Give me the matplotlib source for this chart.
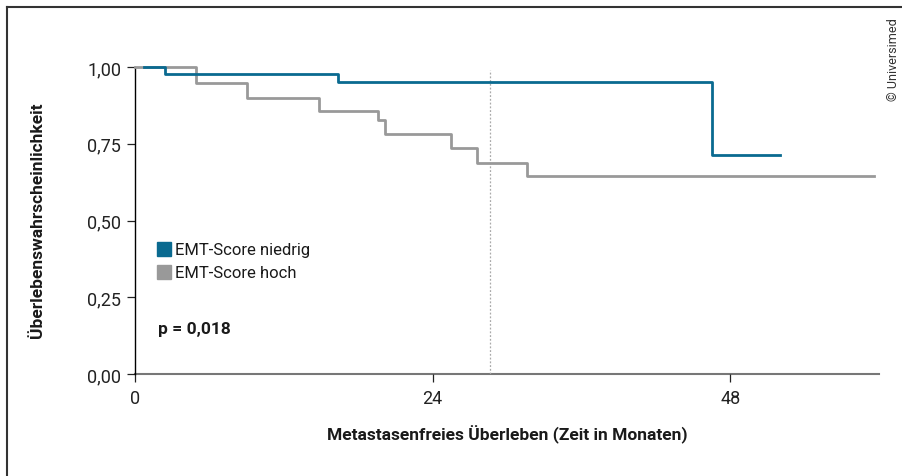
import matplotlib
matplotlib.use("Agg")
import matplotlib.pyplot as plt
from matplotlib import font_manager
from matplotlib.lines import Line2D

names = {f.name for f in font_manager.fontManager.ttflist}
FONT = "Liberation Sans Narrow" if "Liberation Sans Narrow" in names else "Roboto"
plt.rcParams['font.family'] = [FONT, 'DejaVu Sans']

# Data
low_t = [0.7, 2.45, 16.4, 46.5, 52.0]
low_s = [1.0, 0.977, 0.951, 0.714, 0.714]
high_t = [0.0, 4.9, 9.05, 14.8, 19.6, 20.2, 25.5, 27.6, 31.6, 59.6]
high_s = [1.0, 0.947, 0.898, 0.858, 0.827, 0.782, 0.736, 0.687, 0.646, 0.646]
median_line_x = 28.6
xticks = [0, 24, 48]
yticks = [0.0, 0.25, 0.5, 0.75, 1.0]
ytick_labels = ["0,00", "0,25", "0,50", "0,75", "1,00"]
labels = ["EMT-Score niedrig", "EMT-Score hoch"]
colors = ["#0a6a90", "#999999"]
p_text = "p = 0,018"

W, H = 903, 477
fig = plt.figure(figsize=(W / 100, H / 100), dpi=100)
ax = fig.add_axes([135 / W, 1 - 375 / H, (879 - 135) / W, (375 - 68) / H])

ax.step(high_t, high_s, where='post', color=colors[1], lw=2.0, clip_on=False, zorder=3)
ax.step(low_t, low_s, where='post', color=colors[0], lw=2.0, clip_on=False, zorder=4)
ax.plot([median_line_x, median_line_x], [0, 0.99], color="#aaaaaa", lw=0.9,
        linestyle=(0, (1.5, 1.5)), zorder=2)

ax.set_xlim(0, 60)
ax.set_ylim(0, 1.0)
ax.set_xticks(xticks)
ax.set_xticklabels([str(v) for v in xticks])
ax.set_yticks(yticks)
ax.set_yticklabels(ytick_labels)
for s in ["top", "right"]:
    ax.spines[s].set_visible(False)
ax.spines["left"].set_color("black")
ax.spines["left"].set_linewidth(1.0)
ax.spines["bottom"].set_color("#777777")
ax.spines["bottom"].set_linewidth(1.5)
ax.spines["bottom"].set_zorder(1)
ax.tick_params(axis='both', labelsize=13, colors="#222222", width=0.9, length=6)
ax.tick_params(axis='x', pad=5)
ax.tick_params(axis='y', pad=4)

ax.set_xlabel("Metastasenfreies Überleben (Zeit in Monaten)", fontsize=12.5,
              fontweight='bold', color="#1a1a1a", labelpad=12)
fig.text(38 / W, 1 - 220 / H, "Überlebenswahrscheinlichkeit", rotation=90,
         fontsize=12.5, fontweight='bold', color="#1a1a1a", ha='center', va='center')

# legend
for i, (lab, c) in enumerate(zip(labels, colors)):
    yc = 250 + 23 * i
    fig.patches.append(plt.Rectangle((157 / W, 1 - (yc + 7) / H), 14 / W, 14 / H,
                                     transform=fig.transFigure, color=c, figure=fig))
    fig.text(175 / W, 1 - yc / H, lab, fontsize=12, color="#1a1a1a", ha='left', va='center')

fig.text(158 / W, 1 - 330 / H, p_text, fontsize=12.5, fontweight='bold',
         color="#1a1a1a", ha='left', va='center')

fig.text(894 / W, 1 - 18 / H, "© Universimed", rotation=90, fontsize=9,
         color="#333333", ha='center', va='top')

# frame
fig.add_artist(Line2D([7 / W, 7 / W], [0, 1 - 8 / H], color="#333333", lw=1.5,
                      transform=fig.transFigure))
fig.add_artist(Line2D([7 / W, 1], [1 - 8 / H, 1 - 8 / H], color="#333333", lw=1.5,
                      transform=fig.transFigure))

fig.savefig("out.png", dpi=100)
